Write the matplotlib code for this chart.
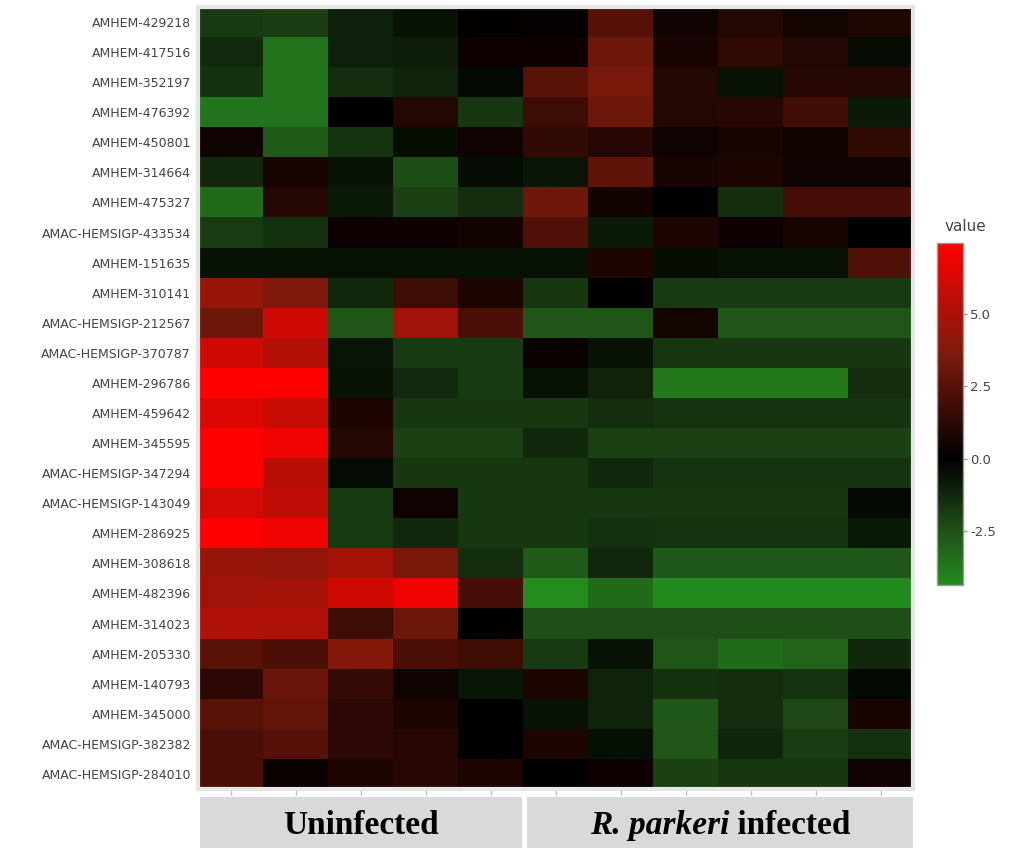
import numpy as np
import matplotlib
matplotlib.use("Agg")
import matplotlib.pyplot as plt
from matplotlib.colors import LinearSegmentedColormap
from matplotlib.patches import Rectangle

genes = [
    "AMHEM-429218", "AMHEM-417516", "AMHEM-352197", "AMHEM-476392",
    "AMHEM-450801", "AMHEM-314664", "AMHEM-475327", "AMAC-HEMSIGP-433534",
    "AMHEM-151635", "AMHEM-310141", "AMAC-HEMSIGP-212567", "AMAC-HEMSIGP-370787",
    "AMHEM-296786", "AMHEM-459642", "AMHEM-345595", "AMAC-HEMSIGP-347294",
    "AMAC-HEMSIGP-143049", "AMHEM-286925", "AMHEM-308618", "AMHEM-482396",
    "AMHEM-314023", "AMHEM-205330", "AMHEM-140793", "AMHEM-345000",
    "AMAC-HEMSIGP-382382", "AMAC-HEMSIGP-284010",
]

# 11 samples: 5 uninfected, 6 R. parkeri infected
values = [
    [-1.8, -1.9, -1.0, -0.6, 0.1, 0.2, 2.5, 0.5, 1.0, 0.6, 0.9],
    [-1.3, -3.6, -1.0, -0.9, 0.4, 0.4, 3.2, 0.7, 1.45, 1.0, -0.4],
    [-1.55, -3.6, -1.4, -1.1, -0.25, 2.6, 3.5, 1.0, -0.6, 1.15, 1.1],
    [-3.6, -3.6, 0.0, 1.0, -1.7, 1.75, 3.2, 1.0, 1.15, 1.9, -0.8],
    [0.45, -2.8, -1.6, -0.45, 0.45, 1.45, 1.15, 0.45, 0.7, 0.55, 1.45],
    [-1.25, 0.7, -0.6, -2.35, -0.4, -0.7, 2.8, 0.7, 0.85, 0.45, 0.45],
    [-3.3, 1.1, -0.8, -2.0, -1.4, 3.2, 0.55, 0.0, -1.4, 2.0, 2.0],
    [-1.85, -1.5, 0.4, 0.4, 0.55, 2.3, -0.8, 0.85, 0.4, 0.7, 0.0],
    [-0.55, -0.55, -0.55, -0.55, -0.55, -0.55, 0.85, -0.45, -0.55, -0.55, 2.3],
    [4.4, 3.65, -1.25, 1.75, 0.85, -1.7, 0.0, -1.8, -1.8, -1.8, -1.8],
    [3.2, 6.1, -2.65, 4.7, 2.2, -2.65, -2.65, 0.6, -2.65, -2.65, -2.65],
    [6.0, 5.25, -0.7, -1.8, -1.8, 0.3, -0.6, -1.7, -1.7, -1.7, -1.7],
    [7.45, 7.45, -0.6, -1.3, -1.8, -0.55, -1.1, -3.75, -3.75, -3.75, -1.4],
    [6.4, 5.85, 0.85, -1.7, -1.7, -1.7, -1.4, -1.6, -1.6, -1.6, -1.6],
    [7.45, 7.0, 1.1, -2.0, -2.0, -1.25, -2.0, -2.0, -2.0, -2.0, -2.0],
    [7.45, 5.4, -0.35, -1.7, -1.7, -1.7, -1.25, -1.6, -1.6, -1.6, -1.6],
    [6.15, 5.55, -1.8, 0.45, -1.7, -1.7, -1.7, -1.7, -1.7, -1.7, -0.3],
    [7.45, 7.0, -1.8, -1.25, -1.7, -1.7, -1.5, -1.6, -1.6, -1.6, -0.8],
    [4.4, 4.25, 4.8, 3.5, -1.4, -2.8, -1.25, -2.75, -2.75, -2.75, -2.75],
    [4.7, 4.8, 6.0, 7.0, 2.05, -4.35, -3.3, -4.3, -4.3, -4.3, -4.3],
    [5.1, 5.1, 1.75, 3.2, 0.0, -2.45, -2.45, -2.45, -2.45, -2.45, -2.45],
    [2.6, 2.2, 3.8, 2.2, 1.75, -1.8, -0.6, -2.65, -3.3, -3.1, -1.25],
    [1.3, 3.05, 1.6, 0.45, -0.7, 0.85, -1.1, -1.55, -1.4, -1.6, -0.25],
    [2.6, 2.9, 1.3, 0.85, 0.0, -0.55, -1.1, -2.75, -1.4, -2.2, 0.7],
    [2.2, 2.5, 1.3, 1.15, 0.05, 0.85, -0.5, -2.65, -1.2, -1.85, -1.5],
    [2.2, 0.3, 0.85, 1.15, 0.85, 0.0, 0.4, -2.0, -1.7, -1.7, 0.45],
]

groups = ["Uninfected", "R. parkeri infected"]
cbar_ticks = [-2.5, 0.0, 2.5, 5.0]
vmin, vmax = -4.35, 7.45

data = np.array(values)

# green -> black -> red, like the plotly scale
zero = -vmin / (vmax - vmin)
cmap = LinearSegmentedColormap.from_list("grk", [
    (0.0, (36/255, 140/255, 30/255)),
    (zero * 0.5, (30/255, 70/255, 22/255)),
    (zero, (0, 0, 0)),
    (zero + (1 - zero) * 0.5, (128/255, 26/255, 12/255)),
    (1.0, (1, 0, 0)),
], N=512)

fig = plt.figure(figsize=(10.11, 8.48), dpi=100)
W, H = 1011, 848

ax = fig.add_axes([198/W, 1 - 789/H, (913-198)/W, (789-7)/H])
im = ax.imshow(data, cmap=cmap, vmin=vmin, vmax=vmax, aspect="auto",
               interpolation="nearest")
ax.set_yticks(np.arange(len(genes)))
ax.set_yticklabels(genes, fontsize=9, color="#444444")
ax.set_xticks(np.arange(data.shape[1]))
ax.set_xticklabels([])
ax.tick_params(axis="y", length=0, pad=5)
ax.tick_params(axis="x", length=4, color="#bbbbbb", width=1, pad=2)
for s in ax.spines.values():
    s.set_color("#e6e6e6")
    s.set_linewidth(3)

# colorbar
cax = fig.add_axes([937/W, 1 - 585/H, 26/W, (585-243)/H])
cb = fig.colorbar(im, cax=cax, ticks=cbar_ticks)
cb.ax.set_yticklabels(["%.1f" % t for t in cbar_ticks], fontsize=9.5, color="#444444")
cb.ax.tick_params(length=3, color="#999999", width=1, pad=2)
cb.outline.set_edgecolor("#999999")
cb.outline.set_linewidth(1)
fig.text(945/W, 1 - 226/H, "value", fontsize=11, color="#444444",
         ha="left", va="center")

# group boxes under the heatmap
box_l = [200, 527]
box_r = [522, 913]
for l, r in zip(box_l, box_r):
    fig.patches.append(Rectangle((l/W, 0), (r-l)/W, (H-797)/H,
                                 transform=fig.transFigure,
                                 facecolor="#d9d9d9", edgecolor="none"))

ty = 1 - 834/H
serif = "Liberation Serif"
fs = 24
fig.text((box_l[0]+box_r[0])/2/W, ty, groups[0], fontsize=fs, fontweight="bold",
         family=serif, ha="center", va="baseline")

fig.canvas.draw()
r = fig.canvas.get_renderer()
t1 = fig.text(0, ty, "R. parkeri", fontsize=fs, fontweight="bold", style="italic",
              family=serif, ha="left", va="baseline")
t2 = fig.text(0, ty, " infected", fontsize=fs, fontweight="bold",
              family=serif, ha="left", va="baseline")
w1 = t1.get_window_extent(r).width
w2 = t2.get_window_extent(r).width
cx = (box_l[1]+box_r[1])/2
x0 = cx - (w1 + w2)/2
t1.set_x(x0/W)
t2.set_x((x0 + w1)/W)

fig.savefig("out.png", dpi=100, facecolor="white")
